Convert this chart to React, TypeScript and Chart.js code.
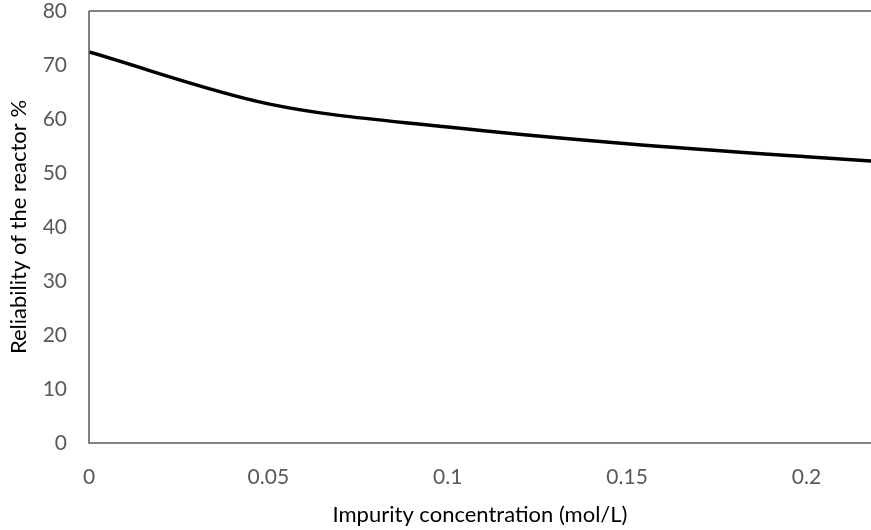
import React, { useEffect, useRef } from "react";
import { Chart, registerables } from "chart.js";

Chart.register(...registerables);

const concentrations = [0, 0.05, 0.1, 0.15, 0.2, 0.25];
const reliability = [72.4, 62.8, 58.5, 55.4, 53.0, 50.9];
const xTicks = [0, 0.05, 0.1, 0.15, 0.2];
const yTicks = [0, 10, 20, 30, 40, 50, 60, 70, 80];
const xTitle = "Impurity concentration (mol/L)";
const yTitle = "Reliability of the reactor %";

const FONT = "Lato, 'Open Sans', sans-serif";

const framePlugin = {
  id: "frame",
  afterDatasetsDraw(chart: any) {
    const { ctx, chartArea } = chart;
    ctx.save();
    ctx.strokeStyle = "#595959";
    ctx.lineWidth = 1.5;
    ctx.beginPath();
    ctx.moveTo(chartArea.left, chartArea.top);
    ctx.lineTo(chartArea.right, chartArea.top);
    ctx.moveTo(chartArea.left, chartArea.top);
    ctx.lineTo(chartArea.left, chartArea.bottom);
    ctx.lineTo(chartArea.right, chartArea.bottom);
    ctx.stroke();
    ctx.restore();
  },
};

export default function App() {
  const ref = useRef<HTMLCanvasElement>(null);
  useEffect(() => {
    document.body.style.margin = "0";
    const chart = new Chart(ref.current!, {
      type: "line",
      data: {
        datasets: [
          {
            data: concentrations.map((x, i) => ({ x, y: reliability[i] })),
            borderColor: "#000000",
            borderWidth: 3.5,
            pointRadius: 0,
            tension: 0.4,
            cubicInterpolationMode: "monotone",
            fill: false,
          },
        ],
      },
      options: {
        animation: false,
        responsive: false,
        layout: { padding: { top: 11, right: 0, left: 0, bottom: 0 } },
        plugins: { legend: { display: false }, tooltip: { enabled: false } },
        scales: {
          x: {
            type: "linear",
            min: 0,
            max: 0.218,
            grid: { display: false, drawTicks: false },
            border: { display: false },
            afterBuildTicks: (axis: any) => {
              axis.ticks = xTicks.map((v) => ({ value: v }));
            },
            afterFit: (axis: any) => {
              axis.height = 87;
              axis.paddingLeft = 0;
              axis.paddingRight = 0;
            },
            ticks: {
              color: "#595959",
              font: { family: FONT, size: 21 },
              padding: 22,
              maxRotation: 0,
              callback: (v: any) => String(v),
            },
            title: {
              display: true,
              text: xTitle,
              color: "#000000",
              font: { family: FONT, size: 22 },
              padding: { top: 0, bottom: 2 },
            },
          },
          y: {
            min: 0,
            max: 80,
            grid: { display: false, drawTicks: false },
            border: { display: false },
            afterBuildTicks: (axis: any) => {
              axis.ticks = yTicks.map((v) => ({ value: v }));
            },
            afterFit: (axis: any) => {
              axis.width = 89;
              axis.paddingTop = 0;
              axis.paddingBottom = 0;
            },
            ticks: {
              color: "#595959",
              font: { family: FONT, size: 21 },
              padding: 22,
            },
            title: {
              display: true,
              text: yTitle,
              color: "#000000",
              font: { family: FONT, size: 22 },
              padding: { top: 6, bottom: 0 },
            },
          },
        },
      },
      plugins: [framePlugin],
    } as any);
    return () => chart.destroy();
  }, []);
  return (
    <div style={{ width: 871, height: 530 }}>
      <canvas ref={ref} width={871} height={530} style={{ display: "block" }} />
    </div>
  );
}
